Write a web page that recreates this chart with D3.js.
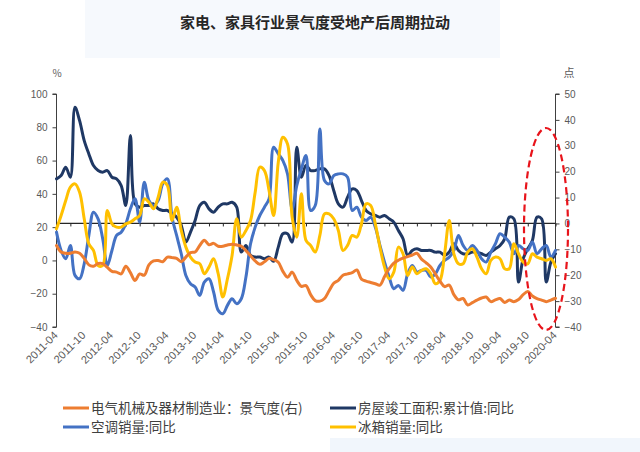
<!DOCTYPE html>
<html><head><meta charset="utf-8">
<script src="https://cdn.jsdelivr.net/npm/d3@7"></script>
<style>body{margin:0;background:#fff;} svg{display:block}</style>
</head><body><svg id="c" width="640" height="452"></svg>
<script>
const titleText = "家电、家具行业景气度受地产后周期拉动";
const leftUnit = "%";
const rightUnit = "点";
// monthly categories 2011-04 .. 2020-04
const months = d3.timeMonth.range(new Date(2011, 3, 1), new Date(2020, 4, 1)).map(d3.timeFormat("%Y-%m"));
const tickLabels = ["2011-04","2011-10","2012-04","2012-10","2013-04","2013-10","2014-04","2014-10","2015-04","2015-10","2016-04","2016-10","2017-04","2017-10","2018-04","2018-10","2019-04","2019-10","2020-04"];
const leftTicks = [100, 80, 60, 40, 20, 0, -20, -40];
const rightTicks = [50, 40, 30, 20, 10, 0, -10, -20, -30, -40];

const seriesNames = ["电气机械及器材制造业：景气度(右)", "房屋竣工面积:累计值:同比", "空调销量:同比", "冰箱销量:同比"];
const seriesColors = ["#ED7D31", "#1F3864", "#4472C4", "#FFC000"];

// 电气机械及器材制造业：景气度 (right axis)
const orangeValues = [-8.5,-11,-11.5,-11.5,-11,-11.5,-13.5,-16,-16.5,-15.5,-15.5,-17,-18.5,-18.8,-19.5,-16.5,-19,-22,-19.5,-20,
  -16,-14.5,-14.3,-14.8,-13,-13.2,-13.5,-14.8,-13,-11.3,-11,-8.5,-6.5,-8.2,-7.7,-8.8,-8.8,-8.3,-8,-8.3,
  -8.8,-10.5,-12.5,-14.5,-15.8,-14.8,-13.5,-14,-15,-18.5,-20.8,-18.8,-22,-24.3,-24,-27.5,-29.8,-30,-29,-26,
  -23.1,-22,-20,-19.5,-19,-18,-21.5,-22.3,-22.8,-23.3,-23.8,-20.5,-17.5,-15.3,-14.2,-13.4,-12.8,-12.2,-11.5,-13.8,
  -15.2,-16.8,-19.5,-22.3,-24.4,-23.8,-27.5,-29.5,-29,-31.5,-30.6,-29.6,-28.8,-28.4,-30.2,-29.5,-29,-30.5,-29.6,-30.2,
  -29.4,-27.5,-26.3,-28,-29,-29.6,-30.2,-29.6,-28.9];
// 房屋竣工面积:累计值:同比 (left axis)
const navyValues = [49,51,56,50,92,84,72,64,57,54,53,54,50,49,45,33,75,34,32,33,
  33,34,31,30,30,28,26,21,11,17,24,33,35,31,29,32,34,34,35,32,
  5,9,3,2,2,1,2,-0.5,8,16,16,11,68,50,57,54,54,55,55,51,
  42,34,32,38,43,42,36,30,28,27,26,27,25,23,18,13,3,6,7,6,
  6,6,5,5,3,5,10,6,4,4,5,5,4,3,5,7,9,13,26,25,
  -13,1,7,12,26,25,-13,-1,4];
// 空调销量:同比 (left axis)
const blueValues = [17,6,1,9,-9,-11,-2,15,29,25,13,-3,6,15,17,22,31,37,23,47,
  36,33,36,46,49,26,15,4,-9,-14,-16,-21,-13,-11,-19,-30,-32,-27,-23,-26,
  -23,-10,10,20,27,32,37,68,64,60,52,31,45,55,63,30,33,79,48,46,
  51,52,52,50,30,32,26,24,26,20,9,-1,-10,-17,-15,-18,-8,-3,-7,-6,
  -6,-10,-8,-3,0,2,6,15,9,6,9,6,1,-1,5,10,16,14,11,4,
  9,7,6,11,4,7,9,2,6];
// 冰箱销量:同比 (left axis)
const yellowValues = [19,27,36,44,46,41,25,10,6,-3,-3,30,22,20,20,22,23,25,27,37,
  35,31,38,47,45,24,32,18,8,2,-1,-2,-8,-4,1,-8,-22,-11,3,25,
  14,18,24,41,56,54,42,27,59,74,70,26,14,40,12,9,5,15,28,28,
  25,18,6,9,15,14,22,34,33,22,8,-4,-11,-7,8,4,-9,-4,-8,-6,
  -5,-8,-14,-12,4,24,4,-2,-2,5,7,2,-5,-8,0,2,1,-5,-5,10,
  4,-1,-2,4,2,1,0,1,-4];

const svg = d3.select("#c");
const X0 = 56.5, X1 = 555.5, YT = 94, YB = 327;
const font = "'Noto Sans CJK SC', 'Noto Sans', sans-serif";

// background decorations
svg.append("rect").attr("x", 85).attr("y", 0).attr("width", 415).attr("height", 58).attr("fill", "#f6f9fd");
svg.append("rect").attr("x", 330).attr("y", 438).attr("width", 310).attr("height", 14).attr("fill", "#f1f6fc");

svg.append("text").attr("x", 315).attr("y", 28).attr("text-anchor", "middle")
  .attr("font-family", font).attr("font-weight", "bold").attr("font-size", 15).attr("fill", "#262626")
  .text(titleText);

const x = d3.scaleLinear().domain([0, months.length - 1]).range([X0, X1]);
const yL = d3.scaleLinear().domain([-40, 100]).range([YB, YT]);
const yR = d3.scaleLinear().domain([-40, 50]).range([YB, YT]);

const axisFont = "'Liberation Sans', Arial, sans-serif";
// left axis
const gL = svg.append("g").attr("transform", `translate(${X0},0)`)
  .call(d3.axisLeft(yL).tickValues(leftTicks).tickSize(4).tickPadding(5).tickFormat(d3.format("d")));
gL.select(".domain").attr("stroke", "#404040").attr("stroke-width", 1).attr("d", `M-4,${YT}H0V${YB}H-4`);
gL.selectAll(".tick line").attr("stroke", "#404040");
gL.selectAll("text").attr("font-family", axisFont).attr("font-size", 10).attr("fill", "#595959");
// right axis
const gR = svg.append("g").attr("transform", `translate(${X1},0)`)
  .call(d3.axisRight(yR).tickValues(rightTicks).tickSize(4).tickPadding(5).tickFormat(d3.format("d")));
gR.select(".domain").attr("stroke", "#404040").attr("stroke-width", 1).attr("d", `M4,${YT}H0V${YB}H4`);
gR.selectAll(".tick line").attr("stroke", "#404040");
gR.selectAll("text").attr("font-family", axisFont).attr("font-size", 10).attr("fill", "#595959");

svg.append("text").attr("x", 57).attr("y", 77).attr("text-anchor", "middle")
  .attr("font-family", font).attr("font-size", 10).attr("fill", "#595959").text(leftUnit);
svg.append("text").attr("x", 569).attr("y", 77).attr("text-anchor", "middle")
  .attr("font-family", font).attr("font-size", 11).attr("fill", "#595959").text(rightUnit);

// category axis at right-axis zero
const y0 = yR(0);
const tickIdx = d3.range(0, months.length, 3);
const gX = svg.append("g").attr("transform", `translate(0,${y0})`)
  .call(d3.axisBottom(x).tickValues(tickIdx).tickSize(3).tickFormat(""));
gX.select(".domain").attr("stroke", "#262626").attr("stroke-width", 1.2).attr("d", `M${X0},0H${X1}`);
gX.selectAll(".tick line").attr("stroke", "#262626");

// x labels, rotated
svg.append("g").selectAll("text").data(tickLabels).join("text")
  .attr("transform", d => `translate(${x(months.indexOf(d)) + 2},${YB + 9}) rotate(-45)`)
  .attr("text-anchor", "end")
  .attr("font-family", axisFont).attr("font-size", 11).attr("fill", "#595959")
  .text(d => d);

// lines
const lineL = d3.line().x((d, i) => x(i)).y(d => yL(d)).curve(d3.curveCatmullRom.alpha(0.5));
const lineR = d3.line().x((d, i) => x(i)).y(d => yR(d)).curve(d3.curveCatmullRom.alpha(0.5));
const plot = svg.append("g");
[[navyValues, 1, lineL], [blueValues, 2, lineL], [yellowValues, 3, lineL], [orangeValues, 0, lineR]].forEach(([vals, ci, ln]) => {
  plot.append("path").datum(vals).attr("d", ln).attr("fill", "none")
    .attr("stroke", seriesColors[ci]).attr("stroke-width", 3).attr("stroke-linejoin", "round").attr("stroke-linecap", "round");
});

// red dashed highlight ellipse
svg.append("ellipse").attr("cx", 546).attr("cy", 229).attr("rx", 22).attr("ry", 101)
  .attr("fill", "none").attr("stroke", "#E8141B").attr("stroke-width", 2.2).attr("stroke-dasharray", "7,4");

// legend
const legendPos = [[63, 408], [330, 408], [63, 427], [330, 427]];
const lg = svg.append("g");
seriesNames.forEach((name, i) => {
  const [lx, ly] = legendPos[i];
  lg.append("line").attr("x1", lx).attr("x2", lx + 26).attr("y1", ly).attr("y2", ly)
    .attr("stroke", seriesColors[i]).attr("stroke-width", 3);
  lg.append("text").attr("x", lx + 28).attr("y", ly + 5)
    .attr("font-family", font).attr("font-size", 13.5).attr("fill", "#404040").text(name);
});
</script></body></html>
